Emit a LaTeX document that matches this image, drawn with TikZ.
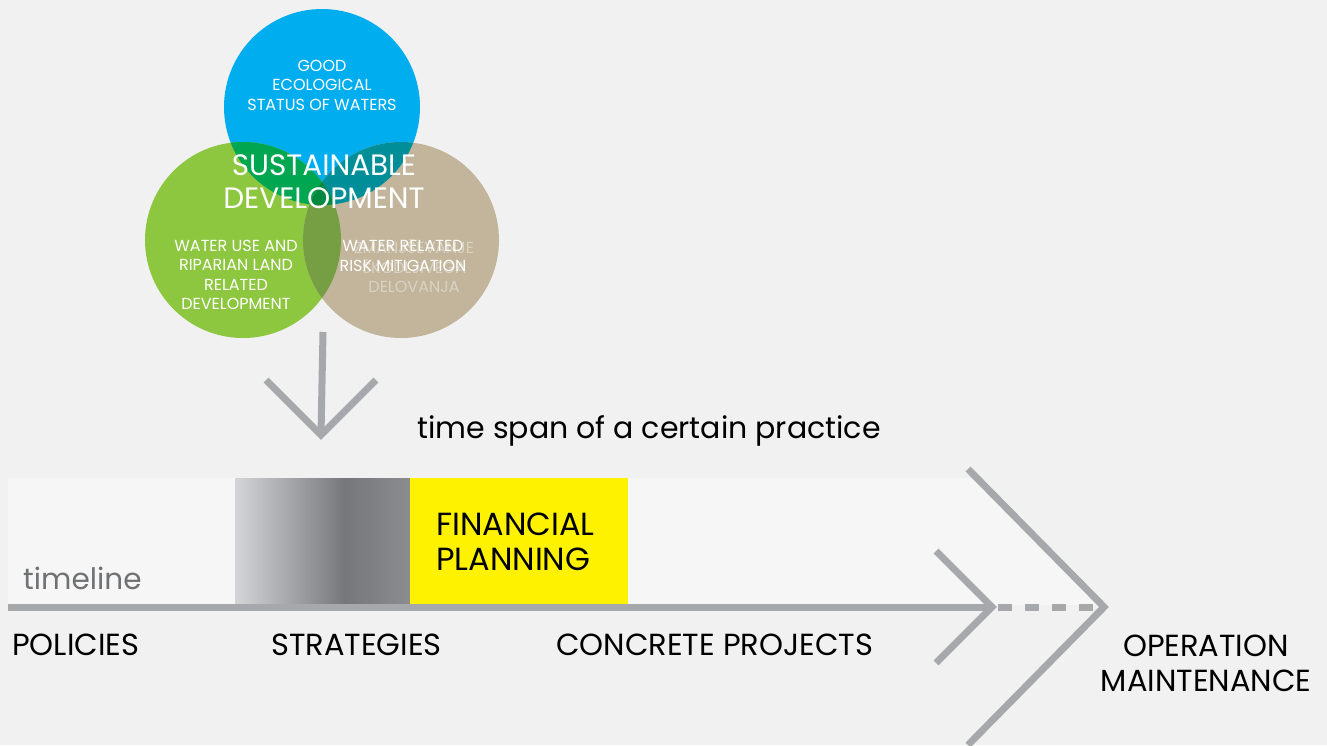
\documentclass[tikz,border=0pt]{standalone}
\usepackage{fontspec}
\setmainfont{Poppins}
\usetikzlibrary{shapes.geometric}

\definecolor{bgcol}{HTML}{F1F1F1}
\definecolor{barcol}{HTML}{F6F6F6}
\definecolor{linecol}{HTML}{A7A8AB}
\definecolor{watblue}{HTML}{00AEEF}
\definecolor{watgreen}{HTML}{8DC63F}
\definecolor{wattan}{HTML}{C2B59B}
\definecolor{bluegreen}{HTML}{00A650}
\definecolor{bluetan}{HTML}{008F98}
\definecolor{greentan}{HTML}{769E42}
\definecolor{allthree}{HTML}{00893F}
\definecolor{finyellow}{HTML}{FFF200}
\definecolor{gradlight}{HTML}{D4D5D7}
\definecolor{graddark}{HTML}{76777A}
\definecolor{gradend}{HTML}{8B8C8E}
\definecolor{tltext}{HTML}{707173}

\tikzstyle{venn} = [circle, minimum size=196pt, inner sep=0pt]
\tikzstyle{smalltxt} = [text=white, align=center, font=\fontsize{16}{19.5}\selectfont, inner sep=0pt]
\tikzstyle{phase} = [anchor=west, text=black, font=\fontsize{30.5}{35}\selectfont, inner sep=0pt]
\tikzstyle{tline} = [linecol, line width=7pt]
\tikzstyle{chevron} = [linecol, line width=7pt, line join=miter]

\begin{document}
\begin{tikzpicture}[x=1pt, y=-1pt]
% background
\fill[bgcol] (0,0) rectangle (1327,745);
\useasboundingbox (0,0) rectangle (1327,745);

% timeline bar
\fill[barcol] (8,478) -- (979,478) -- (1106,605) -- (8,605) -- cycle;
\fill[left color=gradlight, right color=graddark] (235,478) rectangle (345,605);
\fill[left color=graddark, right color=gradend] (345,478) rectangle (410,605);
\node (finance) [fill=finyellow, minimum width=218pt, minimum height=127pt, anchor=north west, inner sep=0pt] at (410,478) {};
\node (finlbl) [anchor=west, align=left, inner sep=0pt, font=\fontsize{32}{35}\selectfont] at (436,542) {FINANCIAL\\PLANNING};
\node (tllbl) [anchor=base west, inner sep=0pt, text=tltext, font=\fontsize{29.5}{34}\selectfont] at (23,589) {timeline};

% venn circles
\node (blue) [venn, fill=watblue] at (322,107) {};
\node (green) [venn, fill=watgreen] at (243,240) {};
\node (tan) [venn, fill=wattan] at (401,240) {};
\begin{scope}
\clip (blue.center) circle (98pt);
\fill[bluegreen] (green.center) circle (98pt);
\fill[bluetan] (tan.center) circle (98pt);
\clip (green.center) circle (98pt);
\fill[allthree] (tan.center) circle (98pt);
\end{scope}
\begin{scope}
\clip (green.center) circle (98pt);
\clip (tan.center) circle (98pt);
\fill[greentan] (tan.center) circle (98pt);
\clip (blue.center) circle (98pt);
\fill[allthree] (tan.center) circle (98pt);
\end{scope}

\node (goodtxt) [smalltxt] at (322,85) {GOOD\\ECOLOGICAL\\STATUS OF WATERS};
\node (sustxt) [text=white, align=center, inner sep=0pt, font=\fontsize{29.5}{33}\selectfont] at (324,182) {SUSTAINABLE\\DEVELOPMENT};
\node (ghosttxt) [smalltxt, text=wattan!60!white] at (414,266) {ZMANJŠEVANJE\\ŠKODLJIVEGA\\DELOVANJA};
\node (usetxt) [smalltxt] at (236,275) {WATER USE AND\\RIPARIAN LAND\\RELATED\\DEVELOPMENT};
\node (risktxt) [smalltxt] at (403,256) {WATER RELATED\\RISK MITIGATION};

% arrow down to the timeline
\coordinate (arrtop) at (323,332);
\coordinate (arrtip) at (321,435);
\coordinate (arrl) at (266,380);
\coordinate (arrr) at (376,380);
\draw[tline] (arrtop) -- (arrtip);
\draw[chevron] (arrl) -- (arrtip) -- (arrr);

\node (span) [inner sep=0pt, font=\fontsize{30}{34}\selectfont] at (649,431) {time span of a certain practice};

% timeline arrow
\coordinate (tlstart) at (8,607);
\coordinate (smalltip) at (992,607);
\coordinate (sc1) at (936,551);
\coordinate (sc2) at (936,663);
\coordinate (bigtip) at (1104,607);
\coordinate (bc1) at (968,469);
\coordinate (bc2) at (968,745);
\draw[tline] (tlstart) -- (smalltip);
\draw[chevron] (sc1) -- (smalltip) -- (sc2);
\draw[linecol, line width=7pt, dash pattern=on 14pt off 13pt] (998,607) -- (bigtip);
\draw[chevron] (bc1) -- (bigtip) -- (bc2);

% phases
\node (policies) [phase] at (12,645) {POLICIES};
\node (strategies) [phase] at (271,645) {STRATEGIES};
\node (projects) [phase] at (556,645) {CONCRETE PROJECTS};
\node (operation) [phase, anchor=center, align=center] at (1206,663) {OPERATION\\MAINTENANCE};
\end{tikzpicture}
\end{document}
